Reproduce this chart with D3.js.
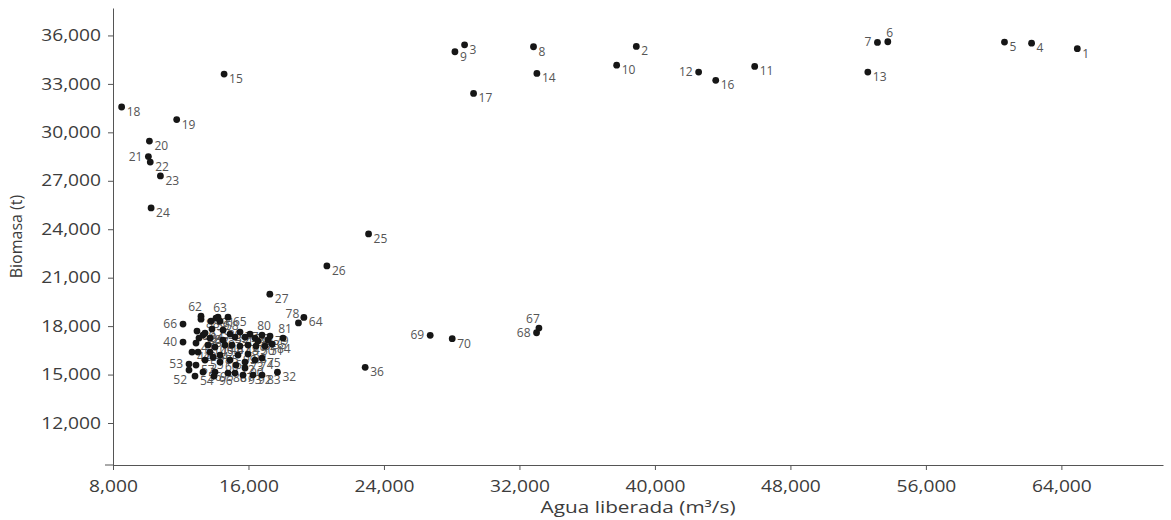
<!DOCTYPE html>
<html>
<head>
<meta charset="utf-8">
<script src="https://cdn.jsdelivr.net/npm/d3@7"></script>
<style>
  body { margin: 0; background: #fff; }
  svg text { font-family: "Open Sans", Lato, sans-serif; fill: #3c3c3c; }
  .axis path, .axis line { stroke: #555; }
</style>
</head>
<body>
<div id="chart"></div>
<script>
// Data - - - - - - - - - - - - - - - - - - - - - - - - - -
// point number, water released (m3/s), biomass (t)
var ids = [1, 2, 3, 4, 5, 6, 7, 8, 9, 10,
           11, 12, 13, 14, 15, 16, 17, 18, 19, 20,
           21, 22, 23, 24, 25, 26, 27, 28, 29, 30,
           31, 32, 33, 34, 35, 36, 37, 38, 39, 40,
           41, 42, 43, 44, 45, 46, 47, 48, 49, 50,
           51, 52, 53, 54, 55, 56, 57, 58, 59, 60,
           61, 62, 63, 64, 65, 66, 67, 68, 69, 70,
           71, 72, 73, 74, 75, 76, 77, 78, 79, 80,
           81, 82, 83, 84, 85, 86, 87, 88, 89, 90,
           91, 92, 93, 94, 95, 96, 97, 98, 99, 100]

var agua = [64940, 38900, 28760, 62240, 60640, 53750, 53140, 32830, 28190, 37740,
            45890, 42580, 52570, 33030, 14560, 43590, 29290, 8510, 11760, 10150,
            10090, 10200, 10800, 10250, 23090, 20630, 17260, 13315, 13846, 14496,
            15204, 17710, 15795, 16385, 17153, 22890, 13728, 13078, 14909, 12134,
            12901, 12665, 13019, 13728, 14023, 14614, 15027, 15499, 15972, 16444,
            16976, 12488, 12488, 12842, 13433, 13315, 12901, 14318, 13787, 14318,
            14909, 13196, 14200, 19270, 14791, 12134, 33150, 33010, 26730, 28030,
            13905, 15263, 15795, 16385, 16798, 16090, 15499, 18950, 17271, 16798,
            18039, 16562, 16798, 17389, 14318, 14791, 15204, 13196, 12960, 15795,
            14082, 16267, 15677, 13433, 14023, 13964, 14496, 15972, 15381, 13610]

var biomasa = [35180, 35320, 35420, 35520, 35590, 35610, 35570, 35300, 34990, 34160,
               34080, 33730, 33730, 33650, 33610, 33220, 32410, 31570, 30790, 29460,
               28500, 28160, 27300, 25320, 23710, 21730, 19980, 17443, 17815, 17753,
               17320, 15150, 17320, 17258, 17134, 15450, 17258, 17258, 17505, 17011,
               16949, 16392, 16392, 16392, 16701, 16825, 16825, 16763, 16825, 16763,
               16763, 15279, 15650, 14907, 15897, 15155, 15588, 18309, 18309, 15773,
               15897, 18619, 18557, 18540, 18557, 18124, 17880, 17590, 17430, 17220,
               16083, 15588, 15773, 15897, 16021, 17505, 17629, 18200, 17382, 17443,
               17258, 17072, 14969, 16887, 16206, 15093, 15093, 18433, 17691, 15402,
               18495, 14969, 14969, 17567, 15155, 14907, 17134, 16268, 16206, 16825]

var xTicks = [8000, 16000, 24000, 32000, 40000, 48000, 56000, 64000]
var yTicks = [12000, 15000, 18000, 21000, 24000, 27000, 30000, 33000, 36000]

// label placement (default is right of the dot, a bit below)
var labelLeft = [7, 12, 21, 40, 53, 66, 68, 69]
var labelAbove = [6, 63, 80, 81]
var labelAboveLeft = [62, 67, 78]
var labelBelowLeft = [52]

// Canvas - - - - - - - - - - - - - - - - - - - - - - - - - - - - - - - - - - - -
var svgWidth = 1171
  , svgHeight = 520
  , plot = {left: 113, right: 1163, top: 8, bottom: 465}
  , dotRadius = 3.4
  , textStretch = 1.2   // the source text is drawn wide

var svg = d3.select("#chart").append("svg")
    .attr("width", svgWidth)
    .attr("height", svgHeight)

var x = d3.scaleLinear().domain([8000, 70000]).range([plot.left, plot.right])
var y = d3.scaleLinear().domain([9400, 37700]).range([plot.bottom, plot.top])

var points = ids.map(function(id, i) {
    return {id: id, agua: agua[i], biomasa: biomasa[i]}
})

// Axes
var xAxis = svg.append("g")
    .attr("class", "axis")
    .attr("transform", "translate(0," + plot.bottom + ")")
    .call(d3.axisBottom(x).tickValues(xTicks).tickFormat(d3.format(",")).tickSize(5).tickSizeOuter(0))
xAxis.selectAll("text")
    .attr("y", 16)
    .attr("transform", "scale(" + textStretch + ",1)")
    .style("font-size", "16px")

svg.append("line")
    .attr("x1", plot.left - 8).attr("x2", plot.left)
    .attr("y1", plot.bottom).attr("y2", plot.bottom)
    .attr("stroke", "#555")

var yAxis = svg.append("g")
    .attr("class", "axis")
    .attr("transform", "translate(" + plot.left + ",0)")
    .call(d3.axisLeft(y).tickValues(yTicks).tickFormat(d3.format(",")).tickSize(5).tickSizeOuter(0))
yAxis.selectAll("text")
    .attr("x", -10)
    .attr("transform", "scale(" + textStretch + ",1)")
    .style("font-size", "16px")

svg.selectAll(".axis .domain").attr("stroke", "#555")

// Axis titles
svg.append("text")
    .attr("transform", "translate(" + ((plot.left + plot.right) / 2) + ",513) scale(1.3,1)")
    .attr("text-anchor", "middle")
    .style("font-size", "16px")
    .text("Agua liberada (m³/s)")

svg.append("text")
    .attr("transform", "translate(22," + ((plot.top + plot.bottom) / 2) + ") rotate(-90)")
    .attr("text-anchor", "middle")
    .style("font-size", "16px")
    .text("Biomasa (t)")

// Point labels
function labelPos(d) {
    var cx = x(d.agua), cy = y(d.biomasa)
    if (labelLeft.indexOf(d.id) >= 0) return {x: cx - 6, y: cy + 4, anchor: "end"}
    if (labelAbove.indexOf(d.id) >= 0) return {x: cx + 2, y: cy - 5, anchor: "middle"}
    if (labelAboveLeft.indexOf(d.id) >= 0) return {x: cx - 6, y: cy - 5, anchor: "middle"}
    if (labelBelowLeft.indexOf(d.id) >= 0) return {x: cx - 2, y: cy + 14, anchor: "end"}
    return {x: cx + 5, y: cy + 9, anchor: "start"}
}

svg.append("g")
    .selectAll("text")
    .data(points)
  .enter()
    .append("text")
    .attr("x", function(d) { return labelPos(d).x })
    .attr("y", function(d) { return labelPos(d).y })
    .attr("text-anchor", function(d) { return labelPos(d).anchor })
    .style("font-size", "12px")
    .style("fill", "#555")
    .text(function(d) { return d.id })

// Dots
svg.append("g")
    .selectAll("circle")
    .data(points)
  .enter()
    .append("circle")
    .attr("cx", function(d) { return x(d.agua) })
    .attr("cy", function(d) { return y(d.biomasa) })
    .attr("r", dotRadius)
    .attr("fill", "#161616")
</script>
</body>
</html>
